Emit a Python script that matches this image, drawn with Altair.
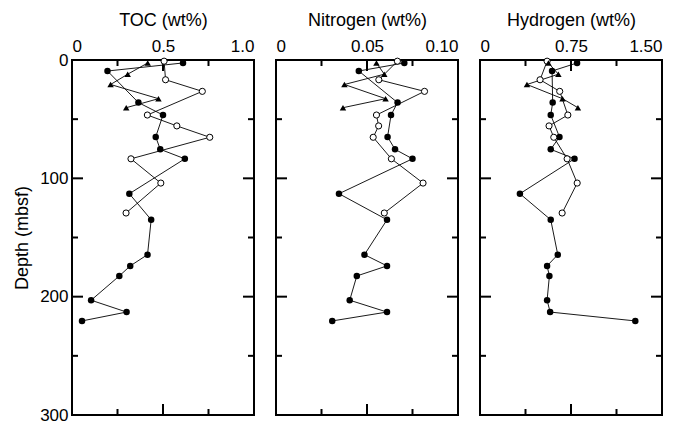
import altair as alt
import pandas as pd

# Sample depths (mbsf) for the three sample series
depth_filled = [2.5, 9.3, 36, 46.5, 65, 75.5, 83.5, 113, 135, 164.5, 174, 182.5, 203, 213, 220.5]
depth_open = [1, 16.7, 26.5, 46.5, 55.7, 65.3, 83.5, 104, 129.3]
depth_tri = [2.5, 12, 20.7, 32.7, 40.3]

# TOC (wt%)
toc_filled = [0.61, 0.195, 0.365, 0.50, 0.46, 0.485, 0.62, 0.315, 0.435, 0.415, 0.32, 0.26, 0.105, 0.30, 0.055]
toc_open = [0.506, 0.514, 0.716, 0.414, 0.576, 0.757, 0.324, 0.488, 0.297]
toc_tri = [0.416, 0.306, 0.212, 0.475, 0.298]

# Nitrogen (wt%)
n_filled = [0.0705, 0.0455, 0.0668, 0.0632, 0.0613, 0.0654, 0.075, 0.0346, 0.061, 0.0486, 0.061, 0.0444, 0.0405, 0.061, 0.0309]
n_open = [0.0667, 0.0565, 0.0816, 0.0552, 0.0564, 0.0534, 0.0634, 0.0808, 0.0595]
n_tri = [0.0552, 0.0595, 0.0376, 0.0602, 0.0368]

# Hydrogen (wt%)
h_filled = [0.80, 0.594, 0.599, 0.583, 0.655, 0.583, 0.779, 0.329, 0.583, 0.641, 0.553, 0.572, 0.553, 0.578, 1.28]
h_open = [0.553, 0.495, 0.657, 0.724, 0.569, 0.608, 0.718, 0.801, 0.677]
h_tri = [0.564, 0.646, 0.387, 0.68, 0.807]

# Axis labels and tick positions
depth_labels = [0, 100, 200, 300]
depth_ticks = [50, 100, 150, 200, 250]
depth_tick_major = [False, True, False, True, False]

W, H = 182, 355
FONT = "Liberation Sans"
MAJOR, MINOR = 11, 6


def panel(title, domain, labels, digits, filled, opened, tri, show_depth_axis):
    x_scale = alt.Scale(domain=domain, nice=False, zero=False)
    y_scale = alt.Scale(domain=[0, 300], reverse=True, nice=False)
    x_axis = alt.Axis(
        orient="top", title=title, values=labels,
        labelExpr=f"datum.value == 0 ? '0' : format(datum.value, '.{digits}f')",
        ticks=False, tickSize=0, domain=False, grid=False, labelFlush=True,
        labelFont=FONT, labelFontSize=17, labelPadding=5, labelColor="black",
        titleFont=FONT, titleFontSize=18, titleFontWeight="normal",
        titlePadding=8, titleColor="black",
    )
    if show_depth_axis:
        y_axis = alt.Axis(
            title="Depth (mbsf)", values=depth_labels, format="d",
            ticks=False, tickSize=0, domain=False, grid=False,
            labelFont=FONT, labelFontSize=17, labelPadding=4, labelColor="black",
            titleFont=FONT, titleFontSize=18, titleFontWeight="normal",
            titlePadding=8, titleColor="black",
        )
    else:
        y_axis = None

    def xenc(field):
        return alt.X(f"{field}:Q", scale=x_scale, axis=x_axis)

    def yenc(field):
        return alt.Y(f"{field}:Q", scale=y_scale, axis=y_axis)

    step = (domain[1] - domain[0]) / 4
    xt = pd.DataFrame({
        "xt": [domain[0] + step, domain[0] + 2 * step, domain[0] + 3 * step],
        "len": [2 * MINOR, 2 * MAJOR, 2 * MINOR],
    })
    yt = pd.DataFrame({
        "yt": depth_ticks,
        "len": [2 * (MAJOR if m else MINOR) for m in depth_tick_major],
    })

    layers = []
    # inward ticks along the four sides of the frame
    for ypos in (0, H):
        layers.append(
            alt.Chart(xt).mark_tick(color="black", thickness=2, clip=True, opacity=1).encode(
                x=xenc("xt"), y=alt.value(ypos), size=alt.Size("len:Q", scale=None)
            )
        )
    for xpos in (0, W):
        layers.append(
            alt.Chart(yt).mark_tick(color="black", thickness=2, clip=True, opacity=1).encode(
                y=yenc("yt"), x=alt.value(xpos), size=alt.Size("len:Q", scale=None)
            )
        )

    series = [
        (filled, depth_filled, "filled"),
        (opened, depth_open, "open"),
        (tri, depth_tri, "tri"),
    ]
    for vals, depths, kind in series:
        df = pd.DataFrame({"v": vals, "depth": depths})
        base = alt.Chart(df).encode(x=xenc("v"), y=yenc("depth"), order="depth:Q")
        layers.append(base.mark_line(color="black", strokeWidth=0.9))
    for vals, depths, kind in series:
        df = pd.DataFrame({"v": vals, "depth": depths})
        base = alt.Chart(df).encode(x=xenc("v"), y=yenc("depth"))
        if kind == "filled":
            m = base.mark_point(shape="circle", filled=True, color="black", size=42, opacity=1)
        elif kind == "open":
            m = base.mark_point(shape="circle", filled=True, fill="white", stroke="black",
                                strokeWidth=1, size=38, opacity=1)
        else:
            m = base.mark_point(shape="triangle-up", filled=True, color="black", size=42, opacity=1)
        layers.append(m)

    return alt.layer(*layers).properties(width=W, height=H)


p1 = panel("TOC (wt%)", [0, 1.0], [0, 0.5, 1.0], 1, toc_filled, toc_open, toc_tri, True)
p2 = panel("Nitrogen (wt%)", [0, 0.10], [0, 0.05, 0.10], 2, n_filled, n_open, n_tri, False)
p3 = panel("Hydrogen (wt%)", [0, 1.50], [0, 0.75, 1.50], 2, h_filled, h_open, h_tri, False)

chart = (
    alt.hconcat(p1, p2, p3, spacing=20)
    .properties(padding={"left": 12, "top": 10, "right": 5, "bottom": 5}, background="white")
    .configure_view(stroke="black", strokeWidth=2)
)

chart.save("out.html", embed_options={"renderer": "svg", "actions": False})
